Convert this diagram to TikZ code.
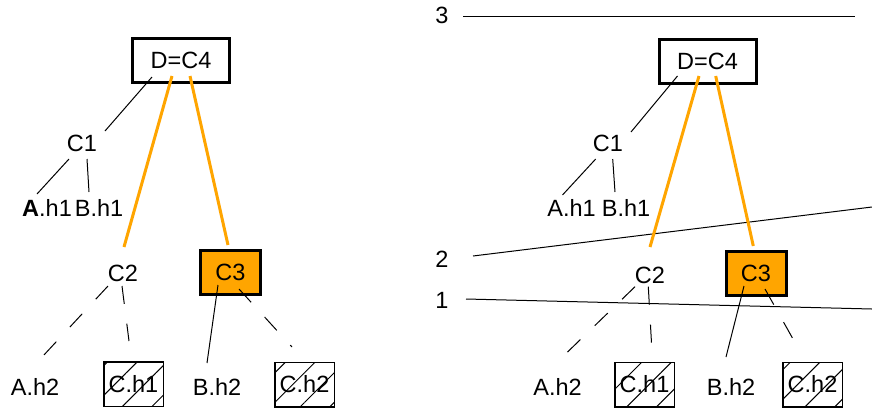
\documentclass[tikz,border=0pt]{standalone}
\usepackage{fontspec}
\setmainfont{Liberation Sans}
\usetikzlibrary{calc,patterns.meta}
\definecolor{hl}{RGB}{255,165,0}
\begin{document}
\begin{tikzpicture}[x=1pt,y=-1pt,
  lbl/.style={inner sep=0pt, font=\fontsize{23.5}{28}\selectfont},
  topbox/.style={lbl, draw, line width=3pt, minimum width=97pt, minimum height=44pt},
  selbox/.style={lbl, draw, fill=hl, line width=3pt, minimum width=60pt, minimum height=44pt},
  hatchbox/.style={lbl, draw, line width=1.5pt, minimum width=59.5pt, minimum height=44.5pt,
    pattern={Lines[angle=45,distance=21pt,line width=1pt]}},
  conn/.style={line width=1pt},
  dconn/.style={line width=1pt, dash pattern=on 18pt off 20pt},
  hot/.style={draw=hl, line width=3pt},
  level/.style={line width=1pt}]
\useasboundingbox (0,0) rectangle (872,410);
\fill[white] (0,0) rectangle (872,410);

% ---------- left tree ----------
\node[topbox] (D) at (181,60.5) {D=C4};
\node[lbl] (C1) at (82,143) {C1};
\node[lbl] (Ah1) at (47,208) {\textbf{A}.h1};
\node[lbl] (Bh1) at (99,208) {B.h1};
\node[lbl] (C2) at (123,273) {C2};
\node[selbox] (C3) at (230.5,272.5) {C3};
\node[lbl] (Ah2) at (35,387) {A.h2};
\node[hatchbox] (Ch1) at (133.5,384) {C.h1};
\node[lbl] (Bh2) at (217,387) {B.h2};
\node[hatchbox] (Ch2) at (304.5,384.5) {C.h2};

\draw[conn] ($(D)+(-29,16.5)$) -- ($(C1)+(23,-12)$);
\draw[conn] ($(C1)+(-13,16)$) -- ($(Ah1)+(-10,-14)$);
\draw[conn] ($(C1)+(5,16)$) -- ($(Bh1)+(-10,-16)$);
\draw[hot] ($(D)+(-9,15.5)$) -- ($(C2)+(1,-26)$);
\draw[hot] ($(D)+(9,15.5)$) -- ($(C3)+(-2.5,-27.5)$);
\draw[dconn] ($(C2)+(-15,13)$) -- ($(Ah2)+(8,-31)$);
\draw[dconn] ($(C2)+(-1,13)$) -- ($(Ch1)+(-4.5,-43)$);
\draw[conn] ($(C3)+(-12.5,12.5)$) -- ($(Bh2)+(-10,-24)$);
\draw[dconn] ($(C3)+(8.5,16.5)$) -- ($(Ch2)+(-12.5,-37.5)$);

% ---------- level lines ----------
\node[lbl] (L3) at (442,15) {3};
\node[lbl] (L2) at (442,259) {2};
\node[lbl] (L1) at (442,300) {1};
\coordinate (E3) at (855,16);
\coordinate (E2) at (872,207);
\coordinate (E1) at (872,309);
\draw[level] ($(L3)+(21,1)$) -- (E3);
\draw[level] ($(L2)+(31,-3)$) -- (E2);
\draw[level] ($(L1)+(24,-1)$) -- (E1);

% ---------- right tree ----------
\node[topbox] (rD) at (707.5,61.5) {D=C4};
\node[lbl] (rC1) at (608,143) {C1};
\node[lbl] (rAh1) at (571.5,208) {A.h1};
\node[lbl] (rBh1) at (626,208) {B.h1};
\node[lbl] (rC2) at (650,275) {C2};
\node[selbox] (rC3) at (756,273.5) {C3};
\node[lbl] (rAh2) at (557.5,387) {A.h2};
\node[hatchbox] (rCh1) at (644.5,384.5) {C.h1};
\node[lbl] (rBh2) at (731,387) {B.h2};
\node[hatchbox] (rCh2) at (812.5,384.5) {C.h2};

\draw[conn] ($(rD)+(-30,14.5)$) -- ($(rC1)+(23,-11)$);
\draw[conn] ($(rC1)+(-12.3,16)$) -- ($(rAh1)+(-9,-13)$);
\draw[conn] ($(rC1)+(4.7,16)$) -- ($(rBh1)+(-11,-16)$);
\draw[hot] ($(rD)+(-8.5,14.5)$) -- ($(rC2)+(0,-28)$);
\draw[hot] ($(rD)+(8.2,14.5)$) -- ($(rC3)+(-2.7,-27.5)$);
\draw[dconn] ($(rC2)+(-15,11.7)$) -- ($(rAh2)+(9,-34)$);
\draw[dconn] ($(rC2)+(-1.7,11.7)$) -- ($(rCh1)+(7,-41.5)$);
\draw[conn] ($(rC3)+(-12,12.5)$) -- ($(rBh2)+(-5,-30)$);
\draw[dconn] ($(rC3)+(9,15.5)$) -- ($(rCh2)+(-19.5,-45.5)$);
\end{tikzpicture}
\end{document}
